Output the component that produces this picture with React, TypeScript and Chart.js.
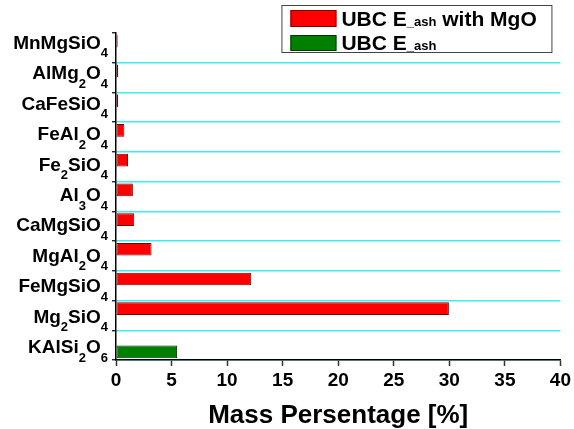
import React, { useEffect, useRef } from 'react';
import { Chart, registerables } from 'chart.js';

Chart.register(...registerables);

const categories = [
  'MnMgSiO₄',
  'AlMg₂O₄',
  'CaFeSiO₄',
  'FeAl₂O₄',
  'Fe₂SiO₄',
  'Al₃O₄',
  'CaMgSiO₄',
  'MgAl₂O₄',
  'FeMgSiO₄',
  'Mg₂SiO₄',
  'KAlSi₂O₆',
];
const withMgOValues = [0.15, 0.2, 0.2, 0.75, 1.08, 1.52, 1.64, 3.2, 12.17, 29.96, null];
const ashValues = [null, null, null, null, null, null, null, null, null, null, 5.5];
const seriesLabels = ['UBC E_ash with MgO', 'UBC E_ash'];
const xMin = 0;
const xMax = 40;
const xStep = 5;
const xTitle = 'Mass Persentage [%]';

const FAMILY = '"Liberation Sans", Arial, Helvetica, sans-serif';
const RED = '#ff0000';
const RED_BORDER = '#7a0000';
const GREEN = '#008000';
const GREEN_BORDER = '#003300';
const CYAN = 'rgb(60,238,238)';

function splitSub(label: string) {
  const parts: { t: string; sub: boolean }[] = [];
  for (const ch of label) {
    const c = ch.codePointAt(0) || 0;
    const sub = c >= 0x2080 && c <= 0x2089;
    const t = sub ? String(c - 0x2080) : ch;
    const last = parts[parts.length - 1];
    if (last && last.sub === sub) last.t += t;
    else parts.push({ t, sub });
  }
  return parts;
}

const labelPlugin = {
  id: 'richYLabels',
  afterDraw(chart: any) {
    const ctx = chart.ctx as CanvasRenderingContext2D;
    const ys = chart.scales.y;
    const right = chart.chartArea.left - 8;
    const mainFont = `bold 19px ${FAMILY}`;
    const subFont = `bold 13px ${FAMILY}`;
    ctx.save();
    ctx.fillStyle = '#000';
    ctx.textBaseline = 'alphabetic';
    ctx.textAlign = 'left';
    categories.forEach((lab, i) => {
      const cy = ys.getPixelForValue(i);
      const parts = splitSub(lab);
      let total = 0;
      parts.forEach((p) => {
        ctx.font = p.sub ? subFont : mainFont;
        total += ctx.measureText(p.t).width;
      });
      let x = right - total;
      const base = cy + 1 + i * 0.7;
      parts.forEach((p) => {
        ctx.font = p.sub ? subFont : mainFont;
        ctx.fillText(p.t, x, p.sub ? base + 8.5 : base);
        x += ctx.measureText(p.t).width;
      });
    });
    ctx.restore();
  },
};

const legendPlugin = {
  id: 'boxLegend',
  afterDraw(chart: any) {
    const ctx = chart.ctx as CanvasRenderingContext2D;
    const area = chart.chartArea;
    const bx = area.right - 279;
    const by = 5;
    const bw = 270;
    const bh = 47;
    ctx.save();
    ctx.fillStyle = '#fff';
    ctx.fillRect(bx, by, bw, bh);
    ctx.strokeStyle = '#444';
    ctx.lineWidth = 1;
    ctx.strokeRect(bx + 0.5, by + 0.5, bw, bh);
    const rows = [
      { fill: RED, border: RED_BORDER, sy: 10, sh: 17, base: 25.5 },
      { fill: GREEN, border: GREEN_BORDER, sy: 35, sh: 16, base: 49.5 },
    ];
    rows.forEach((r, i) => {
      ctx.fillStyle = r.fill;
      ctx.fillRect(bx + 9, r.sy, 46, r.sh);
      ctx.strokeStyle = r.border;
      ctx.strokeRect(bx + 9.5, r.sy + 0.5, 45, r.sh - 1);
      const segs = seriesLabels[i].split(/(_ash)/).filter((s) => s.length);
      let x = bx + 60;
      ctx.fillStyle = '#000';
      ctx.textBaseline = 'alphabetic';
      segs.forEach((s) => {
        ctx.font = s === '_ash' ? `bold 13px ${FAMILY}` : `bold 21px ${FAMILY}`;
        ctx.fillText(s, x, r.base);
        x += ctx.measureText(s).width;
      });
    });
    ctx.restore();
  },
};

export default function App() {
  const ref = useRef<HTMLCanvasElement>(null);
  useEffect(() => {
    document.body.style.margin = '0';
    const chart = new Chart(ref.current!, {
      type: 'bar',
      data: {
        labels: categories,
        datasets: [
          {
            label: seriesLabels[0],
            data: withMgOValues as any,
            backgroundColor: RED,
            borderColor: RED_BORDER,
            borderWidth: 1,
            borderSkipped: false,
            categoryPercentage: 0.9,
            barPercentage: 0.95,
          },
          {
            label: seriesLabels[1],
            data: ashValues as any,
            backgroundColor: GREEN,
            borderColor: GREEN_BORDER,
            borderWidth: 1,
            borderSkipped: false,
            categoryPercentage: 0.9,
            barPercentage: 0.95,
          },
        ],
      },
      options: {
        indexAxis: 'y',
        animation: false,
        responsive: false,
        devicePixelRatio: 1,
        layout: { padding: { top: 33, right: 12, left: 0, bottom: 0 } },
        plugins: {
          legend: { display: false },
          tooltip: { enabled: false },
          title: { display: false },
        },
        scales: {
          x: {
            type: 'linear',
            min: xMin,
            max: xMax,
            ticks: {
              stepSize: xStep,
              color: '#000',
              padding: 3,
              font: { family: FAMILY, size: 19, weight: 'bold' },
            },
            grid: {
              drawOnChartArea: false,
              drawTicks: true,
              tickLength: 6,
              tickColor: '#333',
              tickWidth: 1.5,
            },
            border: { color: '#000', width: 1.5 },
            title: {
              display: true,
              text: xTitle,
              color: '#000',
              padding: 0,
              font: { family: FAMILY, size: 26, weight: 'bold', lineHeight: 1 },
            },
            afterFit: (s: any) => {
              s.height = 69;
            },
          },
          y: {
            type: 'category',
            offset: true,
            ticks: { display: false },
            grid: {
              offset: true,
              color: (c: any) =>
                c.index === 0 || c.index >= categories.length ? 'rgba(0,0,0,0)' : CYAN,
              lineWidth: 1.5,
              drawTicks: true,
              tickLength: 4,
              tickColor: '#000',
              tickWidth: 1.2,
            },
            border: { color: '#000', width: 1.5 },
            afterFit: (s: any) => {
              s.width = 116;
            },
          },
        },
      },
      plugins: [labelPlugin, legendPlugin],
    } as any);
    return () => chart.destroy();
  }, []);
  return (
    <div style={{ width: 574, height: 429, background: '#fff' }}>
      <canvas ref={ref} width={574} height={429} style={{ display: 'block' }} />
    </div>
  );
}
